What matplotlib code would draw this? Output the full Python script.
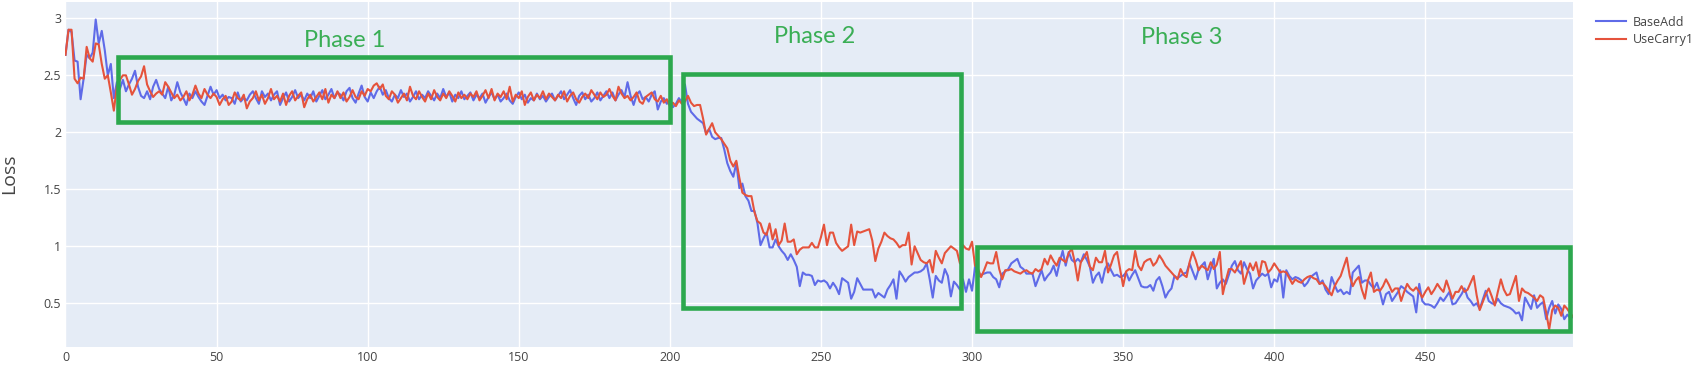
"""Loss curves of BaseAdd vs UseCarry1 with the three training phases marked."""
import matplotlib
matplotlib.use("Agg")
import matplotlib.pyplot as plt
from matplotlib.patches import Rectangle

# Loss per training step
base_add = [
    2.68, 2.90, 2.88, 2.63, 2.62, 2.29, 2.47, 2.68, 2.65, 2.70, 2.99, 2.78, 2.89, 2.72, 2.50, 2.60, 2.30, 2.44, 2.38, 2.46,
    2.36, 2.42, 2.47, 2.54, 2.40, 2.32, 2.30, 2.36, 2.29, 2.40, 2.46, 2.38, 2.34, 2.30, 2.40, 2.28, 2.33, 2.44, 2.35, 2.30,
    2.24, 2.34, 2.30, 2.36, 2.31, 2.27, 2.24, 2.32, 2.40, 2.33, 2.37, 2.30, 2.33, 2.28, 2.31, 2.30, 2.25, 2.35, 2.27, 2.30,
    2.28, 2.33, 2.36, 2.30, 2.25, 2.36, 2.31, 2.34, 2.28, 2.33, 2.36, 2.24, 2.30, 2.35, 2.27, 2.31, 2.37, 2.30, 2.33, 2.28,
    2.34, 2.30, 2.36, 2.27, 2.32, 2.37, 2.29, 2.33, 2.38, 2.30, 2.35, 2.33, 2.28, 2.36, 2.39, 2.30, 2.26, 2.34, 2.41, 2.31,
    2.27, 2.35, 2.30, 2.36, 2.40, 2.33, 2.37, 2.30, 2.27, 2.33, 2.30, 2.37, 2.31, 2.34, 2.27, 2.31, 2.36, 2.29, 2.33, 2.30,
    2.36, 2.32, 2.28, 2.34, 2.30, 2.38, 2.31, 2.35, 2.27, 2.33, 2.30, 2.36, 2.29, 2.32, 2.35, 2.28, 2.33, 2.30, 2.34, 2.26,
    2.31, 2.35, 2.29, 2.33, 2.27, 2.30, 2.34, 2.28, 2.25, 2.31, 2.35, 2.29, 2.33, 2.26, 2.30, 2.28, 2.34, 2.29, 2.32, 2.27,
    2.31, 2.34, 2.28, 2.32, 2.36, 2.29, 2.33, 2.37, 2.30, 2.24, 2.32, 2.35, 2.29, 2.33, 2.27, 2.30, 2.35, 2.28, 2.32, 2.36,
    2.30, 2.35, 2.28, 2.33, 2.37, 2.31, 2.44, 2.32, 2.24, 2.33, 2.36, 2.29, 2.31, 2.27, 2.33, 2.36, 2.20, 2.27, 2.30, 2.25,
    2.28, 2.22, 2.25, 2.30, 2.26, 2.42, 2.25, 2.18, 2.15, 2.12, 2.10, 2.08, 1.99, 2.03, 1.96, 1.94, 1.95, 1.95, 1.85, 1.73,
    1.66, 1.61, 1.73, 1.51, 1.55, 1.44, 1.40, 1.31, 1.31, 1.20, 1.01, 1.07, 1.12, 0.99, 0.99, 1.06, 1.00, 0.96, 0.93, 0.88,
    0.93, 0.88, 0.82, 0.65, 0.77, 0.75, 0.75, 0.74, 0.66, 0.70, 0.69, 0.70, 0.68, 0.63, 0.68, 0.64, 0.58, 0.72, 0.70, 0.68,
    0.54, 0.60, 0.72, 0.67, 0.62, 0.62, 0.62, 0.62, 0.55, 0.59, 0.57, 0.55, 0.62, 0.66, 0.71, 0.54, 0.78, 0.74, 0.69, 0.73,
    0.75, 0.77, 0.77, 0.78, 0.80, 0.85, 0.71, 0.55, 0.74, 0.70, 0.68, 0.80, 0.74, 0.56, 0.69, 0.66, 0.62, 0.71, 0.60, 0.71,
    0.61, 0.82, 0.73, 0.75, 0.76, 0.77, 0.77, 0.73, 0.71, 0.64, 0.76, 0.78, 0.80, 0.85, 0.87, 0.89, 0.82, 0.80, 0.76, 0.76,
    0.76, 0.65, 0.72, 0.79, 0.70, 0.74, 0.77, 0.83, 0.74, 0.86, 0.96, 0.83, 0.95, 0.88, 0.86, 0.89, 0.86, 0.93, 0.88, 0.82,
    0.68, 0.74, 0.77, 0.68, 0.80, 0.85, 0.79, 0.74, 0.75, 0.73, 0.74, 0.77, 0.70, 0.75, 0.79, 0.72, 0.65, 0.64, 0.64, 0.66,
    0.61, 0.70, 0.73, 0.65, 0.55, 0.60, 0.63, 0.74, 0.72, 0.74, 0.76, 0.77, 0.85, 0.78, 0.71, 0.80, 0.83, 0.86, 0.71, 0.80,
    0.89, 0.63, 0.68, 0.71, 0.67, 0.75, 0.83, 0.87, 0.79, 0.76, 0.86, 0.80, 0.76, 0.63, 0.70, 0.73, 0.76, 0.74, 0.76, 0.64,
    0.71, 0.69, 0.79, 0.55, 0.79, 0.74, 0.71, 0.73, 0.72, 0.70, 0.65, 0.68, 0.73, 0.75, 0.77, 0.67, 0.70, 0.62, 0.58, 0.73,
    0.66, 0.60, 0.62, 0.58, 0.60, 0.58, 0.77, 0.80, 0.83, 0.68, 0.70, 0.70, 0.66, 0.63, 0.68, 0.60, 0.49, 0.58, 0.60, 0.52,
    0.56, 0.60, 0.65, 0.63, 0.60, 0.58, 0.56, 0.42, 0.67, 0.52, 0.49, 0.49, 0.48, 0.46, 0.50, 0.55, 0.52, 0.56, 0.60, 0.49,
    0.50, 0.54, 0.58, 0.63, 0.55, 0.52, 0.48, 0.50, 0.45, 0.53, 0.61, 0.52, 0.50, 0.49, 0.54, 0.50, 0.48, 0.47, 0.46, 0.44,
    0.41, 0.42, 0.35, 0.55, 0.50, 0.45, 0.57, 0.46, 0.49, 0.51, 0.36, 0.46, 0.52, 0.41, 0.49, 0.45, 0.36, 0.40, 0.37, 0.38,
]

use_carry1 = [
    2.68, 2.90, 2.90, 2.47, 2.43, 2.48, 2.47, 2.75, 2.65, 2.62, 2.78, 2.77, 2.60, 2.47, 2.50, 2.35, 2.19, 2.40, 2.46, 2.50,
    2.50, 2.42, 2.33, 2.38, 2.45, 2.49, 2.58, 2.42, 2.36, 2.31, 2.34, 2.36, 2.33, 2.44, 2.40, 2.35, 2.30, 2.33, 2.28, 2.31,
    2.36, 2.28, 2.33, 2.41, 2.34, 2.30, 2.38, 2.33, 2.30, 2.34, 2.31, 2.24, 2.29, 2.32, 2.24, 2.27, 2.35, 2.30, 2.28, 2.33,
    2.21, 2.27, 2.30, 2.36, 2.28, 2.33, 2.25, 2.30, 2.38, 2.29, 2.32, 2.27, 2.34, 2.24, 2.32, 2.36, 2.28, 2.32, 2.35, 2.22,
    2.29, 2.33, 2.27, 2.31, 2.35, 2.29, 2.38, 2.26, 2.33, 2.30, 2.36, 2.30, 2.35, 2.27, 2.31, 2.37, 2.31, 2.29, 2.36, 2.32,
    2.38, 2.36, 2.41, 2.43, 2.38, 2.42, 2.32, 2.29, 2.36, 2.33, 2.26, 2.30, 2.34, 2.28, 2.40, 2.32, 2.29, 2.36, 2.31, 2.27,
    2.34, 2.29, 2.37, 2.31, 2.28, 2.34, 2.30, 2.36, 2.32, 2.27, 2.35, 2.30, 2.33, 2.29, 2.34, 2.31, 2.36, 2.28, 2.32, 2.37,
    2.30, 2.38, 2.28, 2.34, 2.31, 2.36, 2.29, 2.40, 2.27, 2.33, 2.30, 2.36, 2.24, 2.31, 2.35, 2.28, 2.33, 2.30, 2.36, 2.29,
    2.34, 2.31, 2.28, 2.33, 2.30, 2.36, 2.27, 2.32, 2.35, 2.29, 2.26, 2.31, 2.34, 2.30, 2.37, 2.33, 2.29, 2.35, 2.31, 2.33,
    2.38, 2.32, 2.28, 2.40, 2.34, 2.30, 2.32, 2.28, 2.31, 2.35, 2.27, 2.25, 2.31, 2.33, 2.35, 2.29, 2.27, 2.32, 2.26, 2.29,
    2.23, 2.26, 2.23, 2.28, 2.25, 2.27, 2.32, 2.26, 2.23, 2.24, 2.24, 2.12, 1.98, 2.03, 2.08, 2.00, 1.97, 1.94, 1.90, 1.86,
    1.75, 1.70, 1.75, 1.60, 1.47, 1.45, 1.44, 1.44, 1.30, 1.22, 1.20, 1.12, 1.10, 1.20, 1.06, 1.15, 1.01, 1.05, 1.20, 1.04,
    1.04, 1.06, 0.93, 0.97, 0.99, 0.99, 0.99, 1.03, 0.99, 0.99, 1.08, 1.19, 1.01, 1.12, 1.12, 1.03, 0.99, 0.96, 0.98, 1.00,
    1.19, 1.01, 1.13, 1.12, 1.13, 1.14, 1.15, 1.05, 0.87, 0.98, 1.04, 1.12, 1.09, 1.07, 1.06, 1.03, 0.99, 1.01, 1.01, 1.12,
    0.84, 1.00, 0.94, 0.88, 0.86, 0.85, 0.88, 0.77, 0.96, 0.90, 0.85, 0.94, 0.97, 1.00, 0.98, 0.96, 0.85, 1.01, 0.98, 0.97,
    1.04, 0.83, 0.80, 0.73, 0.79, 0.86, 0.85, 0.85, 0.95, 0.80, 0.71, 0.79, 0.79, 0.80, 0.78, 0.77, 0.76, 0.78, 0.79, 0.77,
    0.76, 0.80, 0.78, 0.80, 0.89, 0.84, 0.92, 0.87, 0.83, 0.90, 0.88, 0.86, 0.94, 0.98, 0.86, 0.70, 0.86, 0.90, 0.95, 0.82,
    0.79, 0.90, 0.86, 0.86, 0.96, 0.77, 0.84, 0.92, 0.95, 0.80, 0.65, 0.78, 0.80, 0.79, 0.96, 0.83, 0.79, 0.86, 0.88, 0.89,
    0.83, 0.86, 0.92, 0.88, 0.83, 0.80, 0.77, 0.74, 0.71, 0.80, 0.75, 0.73, 0.86, 0.95, 0.88, 0.79, 0.83, 0.81, 0.79, 0.86,
    0.80, 0.84, 0.95, 0.58, 0.70, 0.80, 0.80, 0.77, 0.82, 0.87, 0.67, 0.76, 0.85, 0.79, 0.86, 0.74, 0.87, 0.86, 0.77, 0.80,
    0.85, 0.81, 0.77, 0.78, 0.77, 0.72, 0.67, 0.71, 0.69, 0.68, 0.71, 0.73, 0.74, 0.72, 0.71, 0.67, 0.68, 0.65, 0.61, 0.57,
    0.65, 0.70, 0.74, 0.82, 0.90, 0.74, 0.65, 0.70, 0.73, 0.62, 0.54, 0.70, 0.77, 0.60, 0.62, 0.61, 0.65, 0.71, 0.66, 0.60,
    0.63, 0.63, 0.52, 0.60, 0.67, 0.63, 0.61, 0.64, 0.60, 0.55, 0.60, 0.64, 0.58, 0.62, 0.67, 0.63, 0.60, 0.70, 0.62, 0.54,
    0.60, 0.60, 0.65, 0.60, 0.62, 0.68, 0.74, 0.57, 0.44, 0.51, 0.58, 0.63, 0.56, 0.48, 0.60, 0.71, 0.62, 0.57, 0.58, 0.66,
    0.74, 0.52, 0.63, 0.60, 0.59, 0.57, 0.55, 0.52, 0.57, 0.55, 0.42, 0.27, 0.44, 0.48, 0.46, 0.39, 0.48, 0.45, 0.41, 0.38,
]

steps = list(range(len(base_add)))

series_names = ["BaseAdd", "UseCarry1"]
x_ticks = [50, 100, 150, 200, 250, 300, 350, 400, 450]
y_ticks = [0.5, 1, 1.5, 2, 2.5, 3]
y_tick_labels = ["0.5", "1", "1.5", "2", "2.5", "3"]

# Phase annotations: label, (x0, x1, y0, y1) of the box, text position
phase_labels = ["Phase 1", "Phase 2", "Phase 3"]
phase_boxes = [(17.5, 200.2, 2.093, 2.663), (204.2, 296.5, 0.461, 2.511), (301.5, 498.0, 0.257, 0.997)]
phase_text_pos = [(92.5, 2.751), (247.9, 2.786), (369.4, 2.772)]

BLUE = "#5f6be8"
RED = "#e5533c"
GREEN = "#2ca84e"
TEXT_GREEN = "#3aae55"

plt.rcParams["font.family"] = ["Open Sans", "DejaVu Sans"]


def main():
    fig = plt.figure(figsize=(16.99, 3.70), dpi=100)
    ax = fig.add_axes([0.03855, 0.0630, 0.8875, 0.9324])
    ax.set_facecolor("#e5ecf6")

    line_b, = ax.plot(steps, base_add, color=BLUE, linewidth=1.5, label=series_names[0])
    line_r, = ax.plot(steps, use_carry1, color=RED, linewidth=1.5, label=series_names[1])

    ax.set_xlim(0, len(steps) - 1)
    ax.set_ylim(0.119, 3.146)
    ax.set_xticks([0] + x_ticks)
    ax.set_yticks(y_ticks)
    ax.set_yticklabels(y_tick_labels)
    ax.tick_params(length=0, labelsize=9, labelcolor="#444444", pad=3)
    ax.grid(color="white", linewidth=1.0)
    ax.set_axisbelow(True)
    for spine in ax.spines.values():
        spine.set_visible(False)

    ax.set_ylabel("Loss", fontsize=14, color="#444444")
    ax.yaxis.set_label_coords(-0.0312, 0.5)

    # Phase boxes and labels
    for label, (x0, x1, y0, y1), (tx, ty) in zip(phase_labels, phase_boxes, phase_text_pos):
        ax.add_patch(Rectangle((x0, y0), x1 - x0, y1 - y0, fill=False,
                               edgecolor=GREEN, linewidth=3.3, clip_on=False, zorder=5))
        ax.text(tx, ty, label, ha="center", va="baseline", fontsize=17,
                family="Lato", color=TEXT_GREEN, zorder=6)

    fig.legend(handles=[line_b, line_r], loc="upper left",
               bbox_to_anchor=(0.9359, 0.975), frameon=False, fontsize=9,
               handlelength=2.35, handletextpad=0.55, labelspacing=0.35,
               borderpad=0, labelcolor="#444444")

    plt.savefig("out.png", dpi=100)


if __name__ == "__main__":
    main()
